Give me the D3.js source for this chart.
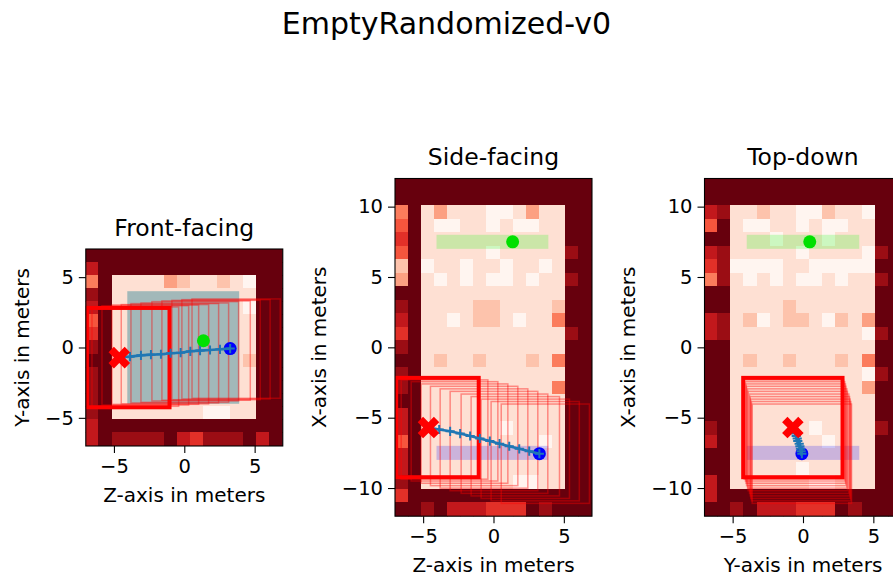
<!DOCTYPE html>
<html lang="en">
<head>
<meta charset="UTF-8">
<title>EmptyRandomized-v0</title>
<script src="https://d3js.org/d3.v7.min.js"></script>
<style>
    body { margin: 0; background: #fff; }
    svg { display: block; font-family: 'DejaVu Sans', sans-serif; }
    .tick text { font-size: 19.5px; fill: #000; }
    .tick line { stroke: #000; stroke-width: 1.1px; }
    rect.cell { shape-rendering: crispEdges; }
</style>
</head>
<body>
<svg id="chart" width="893" height="577"></svg>
<script>
    // occupancy heat per cell, 0 (white) .. 9 (darkest red), rows listed top to bottom
    const frontGrid = [
        "999999999999999",
        "799999999999999",
        "491111321121099",
        "891111111111199",
        "791111111111099",
        "591111111111199",
        "691111111111199",
        "891111111111199",
        "991111111111299",
        "891111111111199",
        "891111111111199",
        "891111111111199",
        "891111111001199",
        "799999999999999",
        "798888976888979"
    ];
    const sideGrid = [
        "999999999999999",
        "999999999999999",
        "491311100131199",
        "591001101001199",
        "691111111111199",
        "591111101111189",
        "290110110110199",
        "391010100101189",
        "991111111111199",
        "891111221111299",
        "791101221011499",
        "691111111111189",
        "891111111111199",
        "991211211121499",
        "891111111111199",
        "891111111111499",
        "991111111111199",
        "791111111111199",
        "791111110111199",
        "591111111110199",
        "791111111111199",
        "791111111111199",
        "891111111001199",
        "699999999999999",
        "998977766698999"
    ];
    const topGrid = [
        "999999999999999",
        "999999999999999",
        "781121100211099",
        "591001101001199",
        "991110111011199",
        "781111101111089",
        "680000110000099",
        "481010100101189",
        "991111111111199",
        "991111211111199",
        "781201221021399",
        "781111111111089",
        "991111111111199",
        "991211211121499",
        "991111111111089",
        "991111111111399",
        "991111111111199",
        "991111111111199",
        "891111110111189",
        "791111111011199",
        "991111111111199",
        "991111101111199",
        "791111110011199",
        "799999999999999",
        "998977766698999"
    ];

    // agent trajectory (meters), first point = start
    const trajX = [-7.56, -7.38, -7.21, -7.03, -6.85, -6.66, -6.48, -6.30, -6.13, -5.97, -5.84, -5.70];
    const trajY = [-0.08, -0.13, -0.18, -0.22, -0.27, -0.37, -0.41, -0.48, -0.51, -0.56, -0.65, -0.72];
    const trajZ = [3.26, 2.54, 1.83, 1.12, 0.43, -0.26, -0.97, -1.66, -2.37, -3.08, -3.86, -4.62];

    // agent box per step
    const boxZLo = [0.55, -0.17, -0.88, -1.59, -2.30, -3.08, -3.79, -4.48, -5.14, -5.85, -6.56, -6.92];
    const boxZHi = [6.82, 6.10, 5.40, 4.69, 3.86, 3.15, 2.44, 1.73, 1.02, 0.31, -0.40, -1.05];
    const boxHalf = 3.53;

    // goal and start regions
    const goalX = [7, 8], goalY = [-4, 4], goalZ = [-4.05, 3.9];
    const startX = [-8, -7], startY = [-4, 4], startZ = [-4.05, 3.9];
    const goalPos = [7.5, 0.48, 1.36]; // X, Y, Z

    const unit = 14.07;
    const svg = d3.select("#chart");
    const heat = d3.scaleSequential(d3.interpolateReds).domain([0, 9]);

    const traj = trajX.map((x, i) => ({X: x, Y: trajY[i], Z: trajZ[i]}));
    const boxes = traj.map((p, i) => ({
        X: [p.X - boxHalf, p.X + boxHalf],
        Y: [p.Y - boxHalf, p.Y + boxHalf],
        Z: [boxZLo[i], boxZHi[i]]
    }));
    const goalBox = {X: goalX, Y: goalY, Z: goalZ};
    const startBox = {X: startX, Y: startY, Z: startZ};
    const goal = {X: goalPos[0], Y: goalPos[1], Z: goalPos[2]};

    const panels = [
        {title: "Front-facing", h: "Z", v: "Y", grid: frontGrid, vDom: [-7, 7], left: 85.8, top: 249,
         yTicks: [-5, 0, 5], xLabel: "Z-axis in meters", yLabel: "Y-axis in meters", yLabelOff: 57},
        {title: "Side-facing", h: "Z", v: "X", grid: sideGrid, vDom: [-12, 12], left: 395, top: 178.5,
         yTicks: [-10, -5, 0, 5, 10], xLabel: "Z-axis in meters", yLabel: "X-axis in meters", yLabelOff: 69.5},
        {title: "Top-down", h: "Y", v: "X", grid: topGrid, vDom: [-12, 12], left: 704.5, top: 178.5,
         yTicks: [-10, -5, 0, 5, 10], xLabel: "Y-axis in meters", yLabel: "X-axis in meters", yLabelOff: 69.5}
    ];

    svg.append("text")
        .attr("x", 446.5).attr("y", 34)
        .attr("text-anchor", "middle")
        .style("font-size", "30px")
        .text("EmptyRandomized-v0");

    panels.forEach((p, k) => {
        const x = d3.scaleLinear().domain([-7, 7]).range([p.left, p.left + 14 * unit]);
        const bottom = p.top + (p.vDom[1] - p.vDom[0]) * unit;
        const y = d3.scaleLinear().domain(p.vDom).range([bottom, p.top]);
        const g = svg.append("g");

        g.append("clipPath").attr("id", "clip" + k)
            .append("rect")
            .attr("x", x(-7)).attr("y", p.top)
            .attr("width", x(7) - x(-7)).attr("height", bottom - p.top);

        const plot = g.append("g").attr("clip-path", `url(#clip${k})`);

        // heatmap
        const rows = p.grid.map(r => r.split("").map(Number));
        const cols = d3.scaleBand().domain(d3.range(rows[0].length)).range([x(-7), x(7)]);
        const rowBand = d3.scaleBand().domain(d3.range(rows.length)).range([p.top, bottom]);
        const cells = rows.flatMap((r, ri) => r.map((val, ci) => ({ri, ci, val})));
        plot.selectAll("rect.cell")
            .data(cells)
            .enter().append("rect")
            .attr("class", "cell")
            .attr("x", d => Math.floor(cols(d.ci)))
            .attr("y", d => Math.floor(rowBand(d.ri)))
            .attr("width", cols.bandwidth() + 1)
            .attr("height", rowBand.bandwidth() + 1)
            .attr("fill", d => heat(d.val));

        const rectOf = b => sel => sel
            .attr("x", x(b[p.h][0]))
            .attr("y", y(b[p.v][1]))
            .attr("width", x(b[p.h][1]) - x(b[p.h][0]))
            .attr("height", y(b[p.v][0]) - y(b[p.v][1]));

        // goal / start regions
        plot.append("rect").call(rectOf(goalBox)).attr("fill", "lime").attr("fill-opacity", 0.2);
        plot.append("rect").call(rectOf(startBox)).attr("fill", "blue").attr("fill-opacity", 0.2);

        // agent boxes, last one solid
        boxes.forEach((b, i) => {
            const last = i === boxes.length - 1;
            plot.append("rect").call(rectOf(b))
                .attr("fill", "none")
                .attr("stroke", "red")
                .attr("stroke-opacity", last ? 1 : 0.4)
                .attr("stroke-width", last ? 4 : 1.5);
        });

        // goal point and start point
        plot.append("circle")
            .attr("cx", x(goal[p.h])).attr("cy", y(goal[p.v])).attr("r", 6.5)
            .attr("fill", "#00e000");
        plot.append("circle")
            .attr("cx", x(traj[0][p.h])).attr("cy", y(traj[0][p.v])).attr("r", 6.5)
            .attr("fill", "blue");

        // trajectory
        const line = d3.line().x(d => x(d[p.h])).y(d => y(d[p.v]));
        plot.append("path").datum(traj)
            .attr("d", line)
            .attr("fill", "none")
            .attr("stroke", "#1f77b4")
            .attr("stroke-width", 2.6);
        plot.selectAll("path.plus")
            .data(traj)
            .enter().append("path")
            .attr("class", "plus")
            .attr("d", "M-4.6,0H4.6M0,-4.6V4.6")
            .attr("transform", d => `translate(${x(d[p.h])},${y(d[p.v])})`)
            .attr("stroke", "#1f77b4")
            .attr("stroke-width", 2);

        // end marker
        const end = traj[traj.length - 1];
        plot.append("path")
            .attr("d", d3.symbol(d3.symbolCross, 290)())
            .attr("transform", `translate(${x(end[p.h])},${y(end[p.v])}) rotate(45)`)
            .attr("fill", "red");

        // frame
        g.append("rect")
            .attr("x", x(-7)).attr("y", p.top)
            .attr("width", x(7) - x(-7)).attr("height", bottom - p.top)
            .attr("fill", "none")
            .attr("stroke", "#000")
            .attr("stroke-width", 1.1);

        // axes
        g.append("g")
            .attr("transform", `translate(0,${bottom})`)
            .call(d3.axisBottom(x).tickValues([-5, 0, 5]).tickSize(7).tickPadding(6))
            .call(a => a.select(".domain").remove());
        g.append("g")
            .attr("transform", `translate(${x(-7)},0)`)
            .call(d3.axisLeft(y).tickValues(p.yTicks).tickSize(7).tickPadding(5))
            .call(a => a.select(".domain").remove());
        g.selectAll(".tick text").style("font-family", "'DejaVu Sans', sans-serif");

        // labels
        g.append("text")
            .attr("x", x(0)).attr("y", p.top - 13.5)
            .attr("text-anchor", "middle")
            .style("font-size", "23.5px")
            .text(p.title);
        g.append("text")
            .attr("x", x(0)).attr("y", bottom + 56)
            .attr("text-anchor", "middle")
            .style("font-size", "20px")
            .text(p.xLabel);
        g.append("text")
            .attr("transform", `translate(${x(-7) - p.yLabelOff},${y(0)}) rotate(-90)`)
            .attr("text-anchor", "middle")
            .style("font-size", "20px")
            .text(p.yLabel);
    });
</script>
</body>
</html>
